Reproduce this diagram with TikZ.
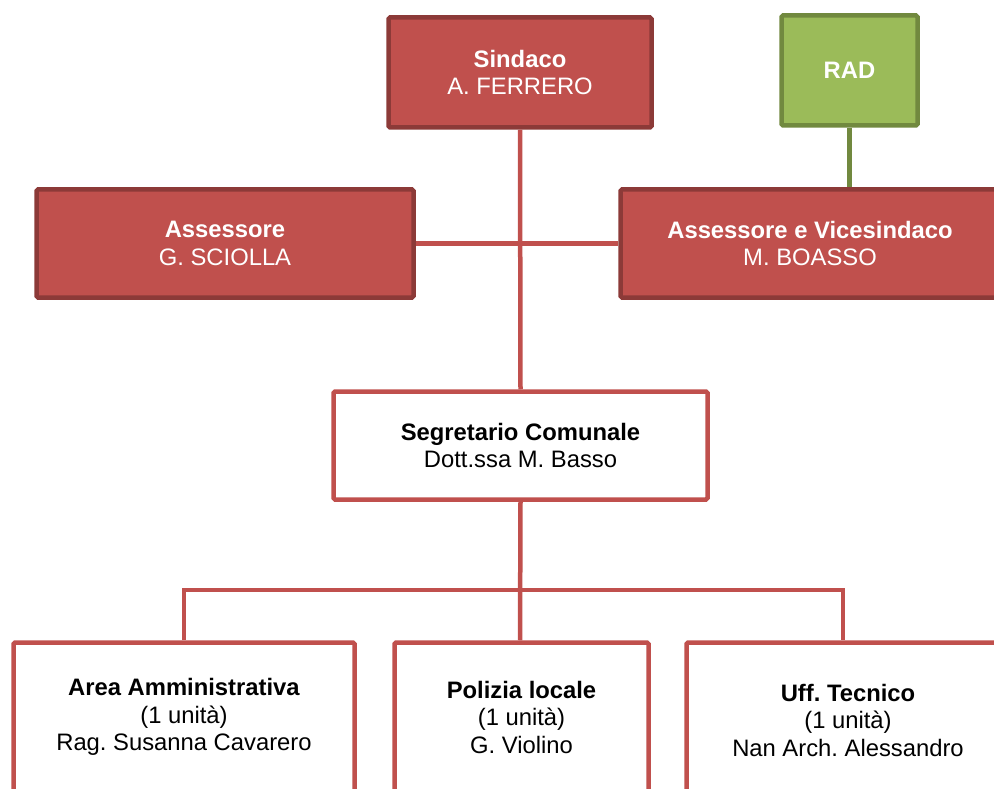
\documentclass[tikz,border=0pt]{standalone}
\usepackage{fontspec}
\setmainfont{Liberation Sans}
\usepackage{tikz}
\frenchspacing

\definecolor{redfill}{HTML}{C0504D}
\definecolor{redline}{HTML}{8C3A38}
\definecolor{greenfill}{HTML}{9BBB59}
\definecolor{greenline}{HTML}{71893F}

\tikzset{
  redbox/.style={draw=redline, fill=redfill, line width=4.5pt, rounded corners=1.5pt,
    text=white, align=center, font=\fontsize{23.8}{27.5}\selectfont, inner sep=0pt},
  greenbox/.style={redbox, draw=greenline, fill=greenfill},
  whitebox/.style={redbox, draw=redfill, fill=white, text=black},
  conn/.style={draw=redfill, line width=4.5pt},
  conngreen/.style={draw=greenline, line width=4.5pt}
}

\begin{document}
\begin{tikzpicture}[x=1pt, y=-1pt]
    \useasboundingbox (0,0) rectangle (994,789);
    \clip (0,0) rectangle (994,789);

    % top level
    \node[redbox, minimum width=263pt, minimum height=110pt] (sindaco) at (520,72.5)
        {\textbf{Sindaco}\\A. FERRERO};
    \node[greenbox, minimum width=136pt, minimum height=110pt] (rad) at (849.5,70.5)
        {\textbf{RAD}};

    % assessori
    \node[redbox, minimum width=377pt, minimum height=108pt] (assessore) at (225,243.5)
        {\textbf{Assessore}\\G. SCIOLLA};
    \node[redbox, minimum width=379pt, minimum height=108pt] (vicesindaco) at (810,243.5)
        {\textbf{Assessore e Vicesindaco}\\M. BOASSO};

    % segretario
    \node[whitebox, minimum width=374pt, minimum height=108pt] (segretario) at (520.5,445.5)
        {\textbf{Segretario Comunale}\\Dott.ssa M. Basso};

    % uffici
    \node[whitebox, minimum width=341pt, minimum height=149pt] (area) at (184,717)
        {\textbf{Area Amministrativa}\\(1 unità)\\Rag. Susanna Cavarero};
    \node[whitebox, minimum width=254pt, minimum height=149pt] (polizia) at (521.5,717)
        {\textbf{Polizia locale}\\(1 unità)\\G. Violino};
    \node[whitebox, minimum width=323pt, minimum height=155pt] (tecnico) at (848,720)
        {\textbf{Uff. Tecnico}\\(1 unità)\\Nan Arch. Alessandro};

    \coordinate (bus) at (520,590);

    % linee
    \draw[conn] (sindaco.south) -- (segretario.north);
    \draw[conn] (assessore.east) -- (vicesindaco.west);
    \draw[conngreen] (rad.south) -- (rad.south |- vicesindaco.north);
    \draw[conn] (segretario.south) -- (bus |- polizia.north);
    \draw[conn] (area.north) |- (bus) -| ([xshift=-5pt]tecnico.north);
\end{tikzpicture}
\end{document}
